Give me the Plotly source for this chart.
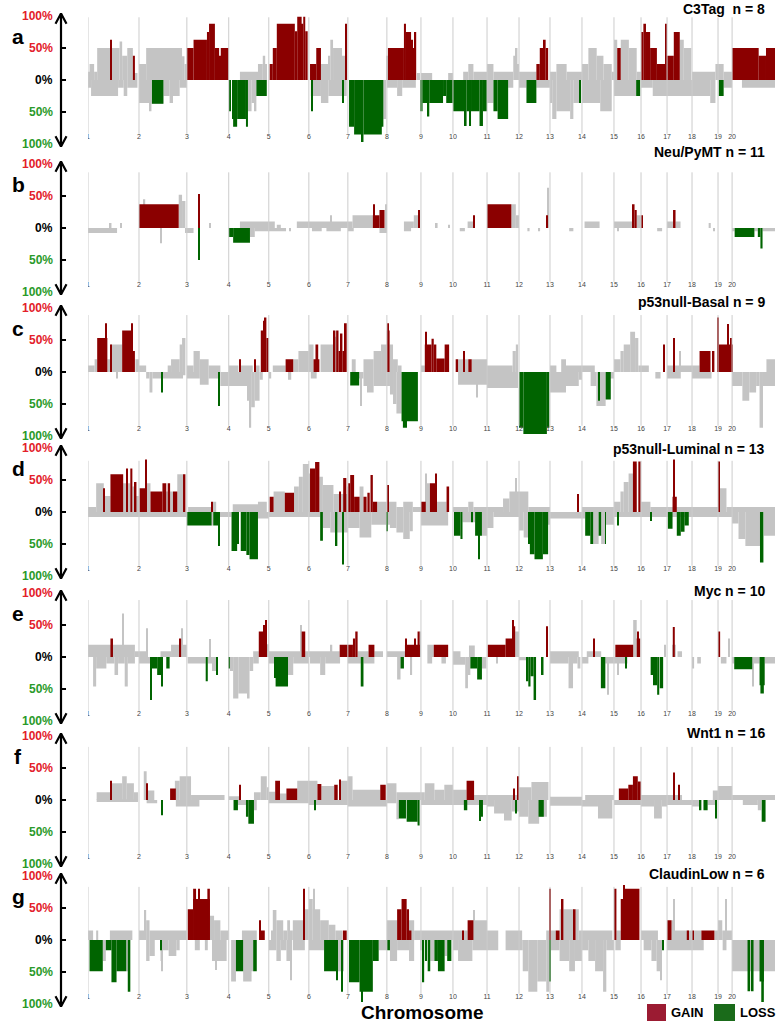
import plotly.graph_objects as go

# ---------------- data ----------------
CHROMOSOMES = ["1", "2", "3", "4", "5", "6", "7", "8", "9", "10",
               "11", "12", "13", "14", "15", "16", "17", "18", "19", "20"]
CHROM_LENGTH_MB = [196, 184, 161, 154, 154, 150, 150, 131, 123, 131,
                   123, 119, 123, 123, 104, 100, 96, 100, 54, 165]

PANEL_LETTERS = ["a", "b", "c", "d", "e", "f", "g"]
PANEL_TITLES = ["C3Tag\u00a0 n = 8", "Neu/PyMT n = 11", "p53null-Basal n = 9",
                "p53null-Luminal n = 13", "Myc n = 10", "Wnt1 n = 16", "ClaudinLow n = 6"]
Y_TICK_VALUES = [100, 50, 0, -50, -100]
Y_TICK_LABELS = ["100%", "50%", "0%", "50%", "100%"]

# segments: (chromosome, start fraction, end fraction, frequency %) ; loss < 0
A_FREQ = [
    (1, 0, 0.03, 13), (1, 0.03, 0.12, 25), (1, 0.12, 0.18, 13), (1, 0.18, 0.62, 50), (1, 0.62, 0.67, 60),
    (1, 0.67, 0.77, 38), (1, 0.77, 0.88, 50), (1, 0.88, 0.97, 11),
    (1, 0, 0.06, -12), (1, 0.06, 0.59, -25), (1, 0.59, 0.70, -12), (1, 0.70, 0.77, -25), (1, 0.77, 0.97, -12),
    (2, 0, 0.15, 25), (2, 0.15, 0.90, 50), (2, 0.90, 0.95, 37), (2, 0.95, 1, 25),
    (2, 0, 0.22, -36), (2, 0.22, 0.26, -49), (2, 0.26, 0.51, -37), (2, 0.51, 0.64, -25), (2, 0.64, 0.71, -36),
    (2, 0.71, 0.85, -25), (2, 0.85, 1, -12),
    (4, 0.28, 0.73, 13), (4, 0.73, 0.85, 25), (4, 0.85, 0.91, 38), (4, 0.91, 0.95, 25),
    (4, 0.48, 0.57, -49), (4, 0.57, 0.65, -36), (4, 0.65, 0.69, -49),
    (6, 0.31, 0.50, 25), (6, 0.50, 0.55, 38), (6, 0.55, 0.62, 63), (6, 0.62, 0.85, 50), (6, 0.85, 0.93, 38),
    (6, 0.05, 0.31, -25), (6, 0.31, 0.50, -36), (6, 0.50, 0.97, -25),
    (7, 0.91, 0.98, -61),
    (8, 0, 0.03, 38), (8, 0.88, 0.97, 11), (8, 0, 0.3, -12), (8, 0.3, 0.45, -25), (8, 0.45, 0.85, -12),
    (9, 0, 0.35, 11), (9, 0.85, 1, 11),
    (10, 0.3, 0.45, 13), (10, 0.45, 0.6, 25), (10, 0.6, 1, 13),
    (11, 0, 0.2, 25), (11, 0.2, 0.82, 13), (11, 0.82, 0.9, 38), (11, 0.9, 0.95, 50), (11, 0.95, 1, 25),
    (11, 0, 0.2, -36), (11, 0.66, 0.82, -12),
    (12, 0, 0.56, 13), (12, 0, 0.24, -12), (12, 0.56, 1, -12),
    (13, 0, 0.2, 13), (13, 0.2, 0.52, 25), (13, 0.52, 1, 13), (13, 0, 0.07, -36), (13, 0.07, 0.2, -61),
    (13, 0.2, 0.63, -49), (13, 0.63, 0.73, -61), (13, 0.73, 0.93, -36),
    (14, 0, 0.2, 25), (14, 0.2, 0.46, 50), (14, 0.46, 0.67, 38), (14, 0.67, 0.93, 25), (14, 0.93, 1, 13),
    (14, 0, 0.57, -36), (14, 0.57, 0.93, -49),
    (15, 0, 0.12, 63), (15, 0.25, 0.55, 63), (15, 0.55, 0.84, 50), (15, 0.84, 1, 13), (15, 0, 0.82, -25),
    (16, 0, 0.45, -12), (16, 0.45, 1, -25),
    (17, 0.51, 0.67, 63), (17, 0.67, 0.97, 50), (17, 0, 1, -25),
    (18, 0, 0.9, 13), (18, 0.9, 1, 25), (18, 0, 0.7, -25), (18, 0.7, 0.9, -36),
    (19, 0, 0.4, 25), (19, 0.4, 1, 13), (19, 0.4, 1, -12),
    (20, 0.23, 1, -12),
]
A_SIG = [
    (1, 0.44, 0.46, 63), (1, 0.88, 0.92, 38),
    (2, 0.27, 0.51, -37),
    (3, 0, 0.16, 50), (3, 0.16, 0.48, 63), (3, 0.48, 0.53, 75), (3, 0.53, 0.67, 88), (3, 0.67, 0.77, 50),
    (3, 0.77, 0.81, 38), (3, 0.81, 1, 50),
    (4, 0.03, 0.05, -49), (4, 0.09, 0.11, -61), (4, 0.11, 0.21, -73), (4, 0.21, 0.43, -61), (4, 0.43, 0.48, -73),
    (4, 0.69, 0.95, -25),
    (5, 0.02, 0.10, 25), (5, 0.10, 0.20, 50), (5, 0.20, 0.65, 88), (5, 0.65, 0.71, 76), (5, 0.71, 0.82, 99),
    (5, 0.82, 0.86, 88), (5, 0.86, 0.91, 99), (5, 0.91, 0.97, 76),
    (6, 0.03, 0.19, 25), (6, 0.19, 0.31, 50), (6, 0.94, 0.96, 88), (6, 0.07, 0.09, -49), (6, 0.86, 0.88, -36),
    (7, 0.03, 0.16, -73), (7, 0.16, 0.36, -85), (7, 0.36, 0.40, -97), (7, 0.40, 0.87, -85), (7, 0.87, 0.91, -73),
    (8, 0.03, 0.50, 50), (8, 0.50, 0.56, 88), (8, 0.56, 0.71, 75), (8, 0.71, 0.76, 63), (8, 0.76, 0.82, 50),
    (8, 0.82, 0.86, 75),
    (9, 0, 0.05, -49), (9, 0.05, 0.21, -36), (9, 0.21, 0.26, -57), (9, 0.26, 0.69, -36), (9, 0.69, 0.79, -25),
    (9, 0.79, 1, -36),
    (10, 0, 0.35, -49), (10, 0.35, 0.40, -72), (10, 0.40, 0.48, -49), (10, 0.48, 0.53, -72), (10, 0.53, 0.78, -49),
    (10, 0.78, 0.88, -72), (10, 0.88, 1, -49),
    (11, 0.2, 0.33, -49), (11, 0.33, 0.66, -61),
    (12, 0.56, 0.67, 25), (12, 0.67, 0.80, 50), (12, 0.80, 0.86, 63), (12, 0.86, 0.94, 50), (12, 0.24, 0.56, -36),
    (13, 0.93, 0.97, -36),
    (15, 0.12, 0.25, 50), (15, 0.82, 0.97, -25),
    (16, 0, 0.09, 75), (16, 0.09, 0.19, 88), (16, 0.19, 0.35, 75), (16, 0.35, 0.61, 50), (16, 0.61, 0.94, 25),
    (16, 0.94, 0.98, 88),
    (17, 0, 0.27, 38), (17, 0.27, 0.51, 75),
    (19, 0.05, 0.4, -25),
    (20, 0, 0.62, 50), (20, 0.62, 0.79, 38), (20, 0.79, 1, 50),
]

B_FREQ = [
    (1, 0, 0.57, -8), (1, 0.43, 0.46, 8), (1, 0.64, 0.66, 8),
    (2, 0.1, 0.13, 45), (2, 0.83, 0.9, 52), (2, 0.9, 0.97, 42), (2, 0.45, 0.47, -24), (2, 0.97, 1, -8),
    (3, 0, 0.16, -8), (3, 0.55, 0.57, 8),
    (4, 0.53, 0.65, -14), (4, 0.65, 1, -5), (4, 0.28, 1, 10),
    (5, 0, 0.15, 10), (5, 0.2, 0.3, 5), (5, 0.7, 1, 10), (5, 0, 0.43, -5), (5, 0.52, 0.55, -5),
    (6, 0, 0.55, 10), (6, 0.55, 0.58, 20), (6, 0.58, 1, 10), (6, 0.08, 0.33, -5), (6, 0.45, 0.82, -5),
    (7, 0, 0.12, 10), (7, 0.12, 0.64, 20), (7, 0.96, 1, 37), (7, 0, 0.15, -5), (7, 0.81, 1, -8),
    (8, 0.5, 0.79, 10), (8, 0.79, 0.93, 20), (8, 0.5, 0.71, -5),
    (9, 0.46, 0.52, 8), (9, 0.85, 0.88, 5),
    (10, 0.43, 0.61, 10), (10, 0.2, 0.35, -5),
    (11, 0.76, 0.9, 37), (11, 0.9, 1, 20),
    (12, 0.27, 0.34, -5), (12, 0.62, 0.68, -5), (12, 0.93, 0.95, 63),
    (13, 0.6, 0.73, -5),
    (14, 0.08, 0.55, 10),
    (15, 0, 0.69, 10), (15, 0.84, 1, 20), (15, 0.14, 0.18, -5),
    (16, 0.62, 0.81, -5),
    (17, 0, 0.24, 10), (17, 0.34, 0.54, 10),
    (18, 0.64, 0.72, 8), (18, 0.82, 0.86, -5),
    (20, 0, 0.06, -5), (20, 0.52, 0.6, -5), (20, 0.71, 1, -5),
]
B_SIG = [
    (2, 0, 0.83, 37),
    (3, 0.27, 0.29, 53), (3, 0.27, 0.29, -50),
    (4, 0, 0.11, -14), (4, 0.11, 0.53, -23),
    (7, 0.64, 0.81, 20), (7, 0.65, 0.67, 37), (7, 0.81, 0.94, 28),
    (8, 0.93, 0.96, 28),
    (10, 0.6, 0.63, 20),
    (11, 0, 0.76, 37),
    (12, 0.9, 0.93, 20),
    (15, 0.69, 0.76, 37), (15, 0.76, 0.84, 28),
    (16, 0, 0.05, 20),
    (17, 0.24, 0.34, 28),
    (20, 0.06, 0.52, -14), (20, 0.6, 0.66, -14), (20, 0.66, 0.71, -32),
]

C_FREQ = [
    (1, 0, 0.13, 10), (1, 0.13, 0.18, 20), (1, 0.38, 0.44, 20), (1, 0.44, 0.67, 43), (1, 0.93, 1, 20),
    (1, 0.55, 0.57, -10),
    (2, 0, 0.15, 10), (2, 0.6, 0.67, 10), (2, 0.67, 0.85, 20), (2, 0.85, 0.9, 43), (2, 0.9, 0.97, 53),
    (2, 0.15, 0.22, -10), (2, 0.22, 0.28, -32), (2, 0.28, 0.46, -10), (2, 0.5, 0.92, -10), (2, 0.92, 0.97, -5),
    (3, 0, 0.16, 10), (3, 0.16, 0.31, 33), (3, 0.31, 0.52, 20), (3, 0.52, 0.8, 10),
    (3, 0, 0.31, -10), (3, 0.31, 0.52, -20), (3, 0.52, 0.75, -10), (3, 0.8, 1, -22),
    (4, 0, 0.24, 10), (4, 0.3, 0.6, 10), (4, 0.66, 0.77, 10),
    (4, 0, 0.48, -22), (4, 0.48, 0.52, -45), (4, 0.52, 0.56, -87), (4, 0.56, 0.65, -55), (4, 0.65, 0.77, -45),
    (4, 0.77, 0.85, -12),
    (5, 0.1, 0.42, 10), (5, 0.61, 0.74, 20), (5, 0.74, 1, 33), (5, 0, 0.06, -10), (5, 0.48, 0.56, -12),
    (6, 0, 0.12, 43), (6, 0.3, 0.64, 43), (6, 0.64, 0.7, 55), (6, 0.05, 0.2, -10),
    (7, 0.1, 0.2, 20), (7, 0.4, 0.66, 20), (7, 0.66, 0.85, 33), (7, 0.85, 1, 43),
    (7, 0.29, 0.4, -10), (7, 0.33, 0.35, -53), (7, 0.4, 0.49, -22), (7, 0.49, 0.66, -32), (7, 0.66, 1, -22),
    (8, 0.08, 0.18, 43), (8, 0.18, 0.32, 20), (8, 0.32, 0.43, 10),
    (8, 0, 0.09, -22), (8, 0.09, 0.18, -35), (8, 0.18, 0.28, -50), (8, 0.28, 0.43, -65),
    (9, 0, 0.12, 10),
    (10, 0.15, 0.45, 20), (10, 0.55, 1, 20), (10, 0.15, 1, -20), (10, 0.7, 0.72, -40),
    (11, 0, 0.8, 10), (11, 0.8, 0.9, 33), (11, 0.9, 0.97, 43), (11, 0, 0.97, -25),
    (13, 0, 0.2, 10), (13, 0.35, 0.5, 20), (13, 0.5, 1, 10), (13, 0, 0.5, -32), (13, 0.5, 0.9, -22),
    (13, 0.9, 1, -12),
    (14, 0, 0.4, 10), (14, 0.27, 0.45, -22), (14, 0.45, 0.74, -53), (14, 0.88, 1, -10),
    (15, 0, 0.24, 20), (15, 0.24, 0.36, 33), (15, 0.36, 0.6, 43), (15, 0.6, 0.78, 63), (15, 0.78, 0.9, 53),
    (15, 0.9, 1, 10),
    (16, 0, 0.3, 10), (16, 0.55, 0.75, -10),
    (17, 0, 1, 10), (17, 0.5, 0.55, 33), (17, 0, 0.55, -10),
    (18, 0, 0.29, 10), (18, 0, 0.75, -10),
    (20, 0.8, 1, 20), (20, 0, 0.24, -22), (20, 0.24, 0.4, -45), (20, 0.4, 0.56, -32), (20, 0.56, 0.64, -22),
    (20, 0.64, 0.72, -87), (20, 0.72, 1, -22),
]
C_SIG = [
    (1, 0.18, 0.38, 53), (1, 0.35, 0.37, 76), (1, 0.44, 0.46, 43), (1, 0.67, 0.88, 65), (1, 0.86, 0.88, 76),
    (1, 0.88, 0.92, 33),
    (2, 0.47, 0.49, -32),
    (3, 0.76, 0.78, -53),
    (4, 0.27, 0.29, 20), (4, 0.64, 0.66, 20), (4, 0.8, 0.86, 65), (4, 0.86, 0.9, 80), (4, 0.9, 0.94, 85),
    (4, 0.94, 1, 53),
    (5, 0.42, 0.61, 20),
    (6, 0.12, 0.27, 20), (6, 0.17, 0.24, 43), (6, 0.64, 0.68, 65), (6, 0.7, 0.76, 65), (6, 0.76, 0.82, 33),
    (6, 0.82, 0.86, 60), (6, 0.86, 0.92, 33), (6, 0.92, 0.97, 76),
    (7, 0.06, 0.29, -21),
    (8, 0, 0.08, 65), (8, 0.02, 0.04, 76), (8, 0.43, 0.91, -77), (8, 0.47, 0.59, -87),
    (9, 0.12, 0.33, 43), (9, 0.14, 0.16, 63), (9, 0.33, 0.4, 52), (9, 0.4, 0.48, 43), (9, 0.48, 0.74, 21),
    (9, 0.74, 0.88, 43),
    (10, 0.08, 0.15, 20), (10, 0.3, 0.33, 33), (10, 0.45, 0.55, 20),
    (12, 0, 0.14, -87), (12, 0.14, 0.9, -97), (12, 0.9, 0.98, -87),
    (14, 0.52, 0.55, -45), (14, 0.74, 0.9, -43),
    (16, 0.88, 0.92, 43),
    (17, 0.26, 0.3, 53),
    (18, 0.29, 0.71, 33), (18, 0.79, 0.86, 33),
    (19, 0, 0.05, 85), (19, 0.05, 0.65, 43), (19, 0.65, 0.72, 75), (19, 0.72, 0.9, 43), (19, 0.9, 0.95, 53),
    (19, 0.95, 1, 43),
]

D_FREQ = [
    (1, 0, 0.16, 8), (1, 0.16, 0.31, 45), (1, 0.31, 0.44, 25), (1, 0.69, 0.75, 45), (1, 0.78, 0.83, 45),
    (1, 0.87, 0.92, 40), (1, 0.92, 1, 25), (1, 0, 1, -8),
    (2, 0.13, 0.24, 45), (2, 0.57, 0.6, 32), (2, 0.65, 0.71, 32), (2, 0.8, 0.92, 59), (2, 0, 1, -8),
    (3, 0.03, 0.62, 8), (3, 0.62, 0.7, 16), (3, 0.59, 0.63, -21), (3, 0.77, 1, -8),
    (4, 0.1, 0.73, 12), (4, 0.73, 0.95, 16), (4, 0, 0.07, -8), (4, 0.73, 1, -10),
    (5, 0.12, 0.4, 32), (5, 0.63, 0.75, 40), (5, 0.75, 0.85, 55), (5, 0.85, 1, 75), (5, 0, 1, -8),
    (6, 0, 0.03, 60), (6, 0.27, 0.36, 55), (6, 0.36, 0.63, 42), (6, 0.63, 1, 28), (6, 0, 0.29, -8),
    (6, 0.36, 0.55, -25), (6, 0.55, 1, -32),
    (7, 0, 0.02, 40), (7, 0.3, 0.4, 40), (7, 0.75, 1, 16), (7, 0, 0.3, -25), (7, 0.3, 0.6, -40), (7, 0.6, 1, -20),
    (8, 0, 0.28, 16), (8, 0.28, 0.48, 8), (8, 0.48, 0.76, 16), (8, 0.76, 1, 8), (8, 0, 0.09, -20),
    (8, 0.09, 0.28, -25), (8, 0.28, 0.48, -32), (8, 0.48, 0.67, -42), (8, 0.67, 0.76, -30),
    (9, 0.15, 0.28, 45), (9, 0.16, 0.18, 60), (9, 0.46, 0.8, 16), (9, 0, 0.85, -21),
    (10, 0, 0.45, 8), (10, 0.45, 0.6, 16), (10, 0.6, 1, 8), (10, 0.28, 0.53, -16), (10, 0.58, 0.65, -16),
    (10, 0.85, 1, -37),
    (11, 0, 0.5, 8), (11, 0.5, 0.7, 21), (11, 0.7, 0.88, 32), (11, 0.88, 0.92, 53), (11, 0.92, 1, 32),
    (11, 0, 0.2, -25), (11, 0.2, 1, -8),
    (12, 0, 0.3, 32), (12, 0.3, 1, 8), (12, 0, 0.15, -29), (12, 0.15, 0.29, -40), (12, 0.94, 1, -20),
    (13, 0, 1, -10),
    (14, 0, 1, 8), (14, 0, 0.1, -10), (14, 0.35, 0.52, -50), (14, 0.6, 0.72, -50), (14, 0.75, 1, -20),
    (15, 0, 0.24, 16), (15, 0.24, 0.36, 32), (15, 0.36, 0.54, 47), (15, 0.54, 0.7, 60), (15, 0.7, 0.84, 75),
    (15, 0, 1, -8),
    (16, 0, 0.36, 16), (16, 0.36, 1, 8), (16, 0, 1, -8),
    (17, 0, 1, 8), (17, 0, 1, -8),
    (18, 0, 1, 8), (18, 0, 1, -8),
    (19, 0.1, 0.6, 37), (19, 0.6, 1, 8), (19, 0, 1, -8),
    (20, 0, 1, 8), (20, 0, 0.15, -18), (20, 0.15, 0.31, -42), (20, 0.31, 0.65, -53), (20, 0.65, 0.7, -42),
    (20, 0.74, 1, -37),
]
D_SIG = [
    (1, 0.31, 0.33, 37), (1, 0.44, 0.69, 59), (1, 0.75, 0.78, 68), (1, 0.83, 0.87, 68), (1, 0.92, 0.95, 47),
    (2, 0.01, 0.13, 37), (2, 0.14, 0.16, 82), (2, 0.24, 0.49, 32), (2, 0.49, 0.57, 45), (2, 0.6, 0.65, 45),
    (2, 0.71, 0.8, 32), (2, 0.92, 0.97, 59),
    (3, 0.6, 0.62, 16), (3, 0, 0.59, -21), (3, 0.63, 0.77, -21), (3, 0.76, 0.78, -53),
    (4, 0.07, 0.21, -61), (4, 0.21, 0.24, -50), (4, 0.3, 0.44, -61), (4, 0.44, 0.52, -67), (4, 0.52, 0.73, -74),
    (5, 0.02, 0.12, 24), (5, 0.4, 0.63, 30),
    (6, 0.03, 0.16, 68), (6, 0.16, 0.27, 78), (6, 0.8, 0.82, 32), (6, 0.88, 0.96, 53), (6, 0.29, 0.36, -45),
    (6, 0.68, 0.73, -53), (6, 0.86, 0.88, -82),
    (7, 0.02, 0.06, 45), (7, 0.06, 0.16, 58), (7, 0.16, 0.3, 24), (7, 0.4, 0.48, 24), (7, 0.5, 0.56, 30),
    (7, 0.58, 0.64, 58), (7, 0.64, 0.75, 16),
    (8, 0.03, 0.06, 42), (8, 0, 0.02, -30),
    (9, 0, 0.15, 16), (9, 0.28, 0.46, 45), (9, 0.44, 0.48, 60), (9, 0.8, 0.88, 40),
    (10, 0.03, 0.22, -37), (10, 0.22, 0.28, -42), (10, 0.53, 0.58, -16), (10, 0.65, 0.85, -37),
    (10, 0.75, 0.78, -74),
    (12, 0.29, 0.35, -50), (12, 0.35, 0.5, -66), (12, 0.5, 0.77, -74), (12, 0.77, 0.94, -66),
    (13, 0.88, 0.9, 28),
    (14, 0.1, 0.26, -37), (14, 0.26, 0.35, -50), (14, 0.52, 0.6, -37), (14, 0.72, 0.75, -50),
    (15, 0.7, 0.84, 79), (15, 0.9, 0.99, 79), (15, 0.14, 0.16, -21),
    (16, 0.36, 0.42, -14),
    (17, 0.22, 0.39, 24), (17, 0.27, 0.3, 32), (17, 0.28, 0.29, 82), (17, 0.03, 0.22, -26), (17, 0.39, 0.55, -37),
    (17, 0.55, 0.7, -31), (17, 0.7, 0.87, -21),
    (19, 0, 0.1, 79),
    (20, 0.65, 0.73, -79),
]

E_FREQ = [
    (1, 0, 0.92, 19), (1, 0.68, 0.7, 68), (1, 0.92, 1, 9),
    (1, 0.1, 0.16, -46), (1, 0.16, 0.36, -18), (1, 0.36, 0.52, -10), (1, 0.52, 0.59, -28), (1, 0.59, 0.72, -10),
    (1, 0.72, 0.78, -46), (1, 0.78, 0.92, -10),
    (2, 0, 0.15, 9), (2, 0.15, 0.17, 45), (2, 0.45, 0.67, 9), (2, 0.67, 0.85, 19), (2, 0.88, 0.92, 45),
    (2, 0.92, 1, 19), (2, 0, 0.24, -10),
    (3, 0.54, 0.56, 28), (3, 0.02, 0.45, -10), (3, 0.5, 0.7, -10), (3, 0.6, 0.7, -22),
    (4, 0.61, 0.75, 9), (4, 0.95, 1, 20), (4, 0.03, 0.11, -22), (4, 0.11, 0.24, -65), (4, 0.24, 0.48, -57),
    (4, 0.48, 0.52, -65), (4, 0.52, 0.61, -22), (4, 0.61, 0.75, -10),
    (5, 0, 0.78, 9), (5, 0.78, 0.82, 50), (5, 0.91, 1, 9), (5, 0, 0.14, -10), (5, 0.48, 0.61, -28),
    (5, 0.61, 1, -10),
    (6, 0, 0.79, 9), (6, 0.55, 0.6, 19), (6, 0.03, 0.29, -10), (6, 0.29, 0.42, -28), (6, 0.42, 0.8, -10),
    (7, 0.25, 0.53, 9), (7, 0.68, 0.9, 9), (7, 0, 0.33, -10), (7, 0.4, 0.68, -10),
    (8, 0, 0.53, 9), (8, 0.97, 1, 40), (8, 0.3, 0.4, -35), (8, 0.7, 0.74, -28),
    (9, 0.2, 0.4, 19), (9, 0.2, 0.35, -10), (9, 0.64, 0.78, -10),
    (10, 0, 0.22, 9), (10, 0.47, 0.64, 18), (10, 0, 0.36, -12), (10, 0.36, 0.44, -49), (10, 0.44, 0.51, -28),
    (10, 0.85, 0.98, -18),
    (11, 0.88, 1, 40), (11, 0.3, 0.33, -10),
    (12, 0, 0.24, -5),
    (13, 0, 0.9, 9), (13, 0, 0.58, -10), (13, 0.58, 0.72, -49), (13, 0.72, 0.86, -10), (13, 0.86, 0.95, -18),
    (14, 0.15, 0.6, 9), (14, 0, 0.2, -10), (14, 0.73, 1, -10), (14, 0.8, 0.83, -59),
    (15, 0.71, 0.84, 58), (15, 0, 0.5, -10), (15, 0.12, 0.16, -28),
    (16, 0.9, 0.93, 19),
    (17, 0.2, 0.35, 19), (17, 0.42, 0.6, 9),
    (18, 0, 0.08, -18), (18, 0.2, 0.34, -10),
    (19, 0.75, 0.8, 29), (19, 0.2, 0.6, -10),
    (20, 0, 0.05, -10), (20, 0.47, 0.64, -10), (20, 0.47, 0.5, -46), (20, 0.76, 1, -10),
]
E_SIG = [
    (1, 0.44, 0.49, 29),
    (2, 0.85, 0.88, 29), (2, 0.24, 0.38, -18), (2, 0.25, 0.27, -67), (2, 0.38, 0.47, -28), (2, 0.47, 0.5, -46),
    (2, 0.57, 0.64, -18),
    (3, 0.45, 0.5, -38), (3, 0.7, 0.74, -28),
    (4, 0.75, 0.87, 40), (4, 0.87, 0.91, 50), (4, 0.91, 0.95, 58), (4, 0, 0.03, -18),
    (5, 0.82, 0.91, 40), (5, 0.14, 0.17, -33), (5, 0.17, 0.48, -46),
    (6, 0.79, 1, 19),
    (7, 0, 0.13, 19), (7, 0.13, 0.19, 29), (7, 0.19, 0.25, 40), (7, 0.53, 0.68, 19), (7, 0.33, 0.4, -46),
    (8, 0.53, 0.97, 19), (8, 0.54, 0.57, 29), (8, 0.8, 0.85, 29), (8, 0.9, 0.96, 40), (8, 0.4, 0.5, -18),
    (9, 0.4, 0.85, 19),
    (10, 0.51, 0.71, -18), (10, 0.71, 0.85, -35),
    (11, 0.02, 0.58, 19), (11, 0.58, 0.79, 29), (11, 0.79, 0.84, 58), (11, 0.84, 0.88, 48),
    (12, 0.89, 0.92, 48), (12, 0.24, 0.3, -38), (12, 0.3, 0.37, -46), (12, 0.37, 0.47, -30), (12, 0.47, 0.55, -67),
    (12, 0.71, 0.79, -28),
    (14, 0.38, 0.4, 29), (14, 0.59, 0.73, -49),
    (15, 0.05, 0.71, 19), (15, 0.84, 0.97, 29), (15, 0.88, 0.9, 40), (15, 0.42, 0.47, -18),
    (16, 0.37, 0.46, -28), (16, 0.46, 0.62, -44), (16, 0.62, 0.7, -59), (16, 0.72, 0.85, -49),
    (17, 0.23, 0.31, 47),
    (19, 0, 0.15, 40),
    (20, 0.05, 0.47, -19), (20, 0.64, 0.76, -44), (20, 0.66, 0.74, -57),
]

F_FREQ = [
    (1, 0.17, 0.45, 12), (1, 0.47, 0.67, 26), (1, 0.67, 0.76, 37), (1, 0.76, 0.9, 26), (1, 0.9, 0.98, 12),
    (1, 0.17, 0.98, -3),
    (2, 0.1, 0.16, 45), (2, 0.16, 0.32, 15), (2, 0.75, 0.85, 30), (2, 0.85, 1, 37), (2, 0.16, 0.38, -5),
    (2, 0.77, 1, -10),
    (3, 0, 0.1, 37), (3, 0.1, 0.9, 8), (3, 0, 0.3, -10),
    (4, 0, 0.28, 6), (4, 0.63, 0.8, 12), (4, 0.8, 0.95, 37), (4, 0.95, 1, 20), (4, 0.23, 0.43, -8),
    (4, 0.63, 0.7, -16),
    (5, 0, 0.16, 13), (5, 0.28, 0.44, 10), (5, 0.71, 1, 30), (5, 0, 1, -5),
    (6, 0, 0.22, 30), (6, 0.32, 0.65, 22), (6, 0.82, 1, 30), (6, 0, 1, -8),
    (7, 0, 0.12, 37), (7, 0.12, 0.83, 16), (7, 0, 1, -10),
    (8, 0, 0.28, 26), (8, 0.28, 1, 12), (8, 0, 0.28, -5), (8, 0.28, 0.35, -30),
    (9, 0, 0.12, 12), (9, 0.12, 0.42, 26), (9, 0.42, 0.73, 16), (9, 0.73, 1, 24), (9, 0, 1, -8),
    (10, 0, 0.4, 16), (10, 0.62, 1, 8), (10, 0, 1, -8),
    (11, 0, 1, 8), (11, 0, 0.22, -10), (11, 0.22, 0.53, -21), (11, 0.53, 0.77, -32), (11, 0.77, 1, -18),
    (12, 0, 0.4, 20), (12, 0.4, 0.95, 28), (12, 0, 0.3, -26), (12, 0.3, 0.65, -37), (12, 0.65, 0.9, -26),
    (13, 0, 1, 5), (13, 0, 1, -9),
    (14, 0.1, 1, 8), (14, 0, 0.5, -10), (14, 0.5, 0.95, -29),
    (15, 0, 1, -8),
    (16, 0, 1, 8), (16, 0, 0.5, -10), (16, 0.5, 0.8, -29), (16, 0.8, 1, -10),
    (17, 0, 0.6, 8), (17, 0, 1, -8),
    (18, 0.8, 1, 15), (18, 0, 0.3, -10), (18, 0.6, 0.9, -8),
    (19, 0, 1, 22),
    (20, 0, 1, 8), (20, 0.25, 0.6, -8), (20, 0.6, 0.68, -16),
]
F_SIG = [
    (1, 0.45, 0.47, 30),
    (2, 0.16, 0.18, 26), (2, 0.65, 0.77, 18), (2, 0.48, 0.5, -24),
    (4, 0.28, 0.3, 24), (4, 0.12, 0.23, -16), (4, 0.43, 0.49, -26), (4, 0.49, 0.63, -37),
    (5, 0.16, 0.28, 30), (5, 0.44, 0.71, 18),
    (6, 0.22, 0.32, 25), (6, 0.65, 0.74, 24), (6, 0.8, 0.82, 32), (6, 0.15, 0.17, -16),
    (7, 0.83, 0.97, 24),
    (8, 0.35, 0.56, -29), (8, 0.58, 0.9, -34), (8, 0.9, 0.96, -40),
    (10, 0.4, 0.62, 30), (10, 0.32, 0.42, -16), (10, 0.79, 0.88, -26), (10, 0.79, 0.82, -33),
    (11, 0.84, 0.87, 18), (11, 0.95, 0.98, 37), (11, 0.88, 0.9, -21),
    (12, 0.63, 0.8, -26),
    (15, 0.18, 0.53, 18), (15, 0.53, 0.7, 24), (15, 0.7, 0.88, 37), (15, 0.88, 1, 29),
    (17, 0.24, 0.28, 43), (17, 0.44, 0.48, 24),
    (18, 0.3, 0.36, -16), (18, 0.44, 0.6, -16), (18, 0.9, 0.94, -29),
    (20, 0.69, 0.78, -34),
]

G_FREQ = [
    (1, 0, 0.1, 15), (1, 0.16, 0.2, 15), (1, 0.43, 0.87, 15), (1, 0.29, 0.35, -33), (1, 0.75, 0.78, -49),
    (2, 0, 0.15, 15), (2, 0.12, 0.15, 47), (2, 0.15, 0.22, 31), (2, 0.22, 1, 15),
    (2, 0.15, 0.22, -33), (2, 0.22, 0.33, -25), (2, 0.45, 0.5, -33), (2, 0.46, 0.5, -49), (2, 0.5, 0.62, -16),
    (2, 0.62, 0.78, -25), (2, 0.78, 0.85, -16),
    (3, 0.55, 0.65, 38), (3, 0.65, 0.8, 31), (3, 0.8, 1, 15), (3, 0.19, 0.31, -16), (3, 0.43, 0.5, -16),
    (3, 0.6, 0.95, -33), (3, 0.68, 0.72, -47),
    (4, 0.33, 0.7, 15), (4, 0.06, 0.18, -65), (4, 0.36, 0.57, -65), (4, 0.57, 0.61, -49),
    (5, 0.06, 0.1, 15), (5, 0.1, 0.19, 47), (5, 0.19, 0.36, 31), (5, 0.36, 0.46, 15), (5, 0.46, 0.53, 31),
    (5, 0.53, 0.6, 15), (5, 0.6, 0.86, 31), (5, 0.9, 1, 48),
    (5, 0, 0.19, -16), (5, 0.19, 0.3, -33), (5, 0.3, 0.44, -16), (5, 0.44, 0.54, -33), (5, 0.54, 0.57, -63),
    (5, 0.6, 0.9, -16),
    (6, 0, 0.1, 64), (6, 0.1, 0.29, 48), (6, 0.11, 0.13, 80), (6, 0.29, 0.51, 31), (6, 0.51, 0.68, 24),
    (6, 0.68, 0.85, 15), (6, 0, 0.39, -16), (6, 0.7, 0.9, -49),
    (7, 0.79, 1, -16),
    (8, 0, 0.3, 31), (8, 0.65, 0.8, 31), (8, 0.8, 1, 15), (8, 0.09, 0.3, -33), (8, 0.3, 0.65, -16),
    (8, 0.65, 0.8, -33),
    (9, 0, 1, 15), (9, 0, 0.05, -16), (9, 0.29, 0.42, -33), (9, 0.74, 0.82, -25),
    (10, 0, 0.43, 15), (10, 0.6, 0.63, 47), (10, 0.63, 1, 31), (10, 0, 0.15, -16), (10, 0.15, 0.57, -33),
    (10, 0.57, 1, -16),
    (11, 0, 0.35, 15), (11, 0.58, 1, 15), (11, 0, 0.35, -16), (11, 0.58, 1, -16),
    (12, 0, 0.1, 15), (12, 0.88, 1, 15), (12, 0, 0.12, -16), (12, 0.12, 0.3, -49), (12, 0.3, 0.59, -81),
    (12, 0.59, 0.88, -65), (12, 0.88, 0.98, -81),
    (13, 0.02, 0.18, 15), (13, 0.3, 0.37, 48), (13, 0.42, 0.75, 48), (13, 0.8, 0.9, 48), (13, 0.9, 1, 15),
    (13, 0.02, 0.3, -16), (13, 0.3, 0.6, -33), (13, 0.6, 0.78, -49), (13, 0.78, 1, -33),
    (14, 0, 0.95, 15), (14, 0, 0.2, -16), (14, 0.2, 0.41, -33), (14, 0.41, 0.66, -49), (14, 0.66, 0.76, -81),
    (14, 0.76, 1, -16),
    (15, 0.09, 0.25, 15), (15, 0.05, 0.25, -16),
    (16, 0, 0.65, 15), (16, 0.1, 0.4, -16), (16, 0.4, 0.6, -33), (16, 0.6, 0.73, -49), (16, 0.73, 0.78, -63),
    (17, 0.18, 0.3, 31), (17, 0.25, 0.28, 64), (17, 0.3, 1, 15), (17, 0, 1, -16),
    (18, 0.07, 0.36, 15), (18, 0.86, 1, 15), (18, 0, 0.45, -16),
    (19, 0, 0.3, 31), (19, 0.3, 1, 15), (19, 0.57, 0.62, 64), (19, 0.33, 0.6, -16),
    (20, 0, 1, -49),
]
G_SIG = [
    (1, 0.03, 0.29, -49), (1, 0.35, 0.46, -16), (1, 0.46, 0.56, -66), (1, 0.56, 0.75, -49), (1, 0.78, 0.83, -81),
    (2, 0.44, 0.46, -16),
    (3, 0.02, 0.15, 48), (3, 0.15, 0.55, 64), (3, 0.15, 0.22, 80), (3, 0.29, 0.31, 80), (3, 0.49, 0.55, 80),
    (4, 0.77, 0.8, 31), (4, 0.8, 0.9, 15), (4, 0.18, 0.36, -49), (4, 0.61, 0.7, -49),
    (5, 0.86, 0.9, 80),
    (6, 0.87, 0.97, 15), (6, 0.39, 0.7, -49), (6, 0.7, 0.72, -63), (6, 0.84, 0.86, -81),
    (7, 0.03, 0.3, -66), (7, 0.3, 0.64, -81), (7, 0.35, 0.37, -97), (7, 0.64, 0.79, -33),
    (8, 0.3, 0.43, 48), (8, 0.43, 0.58, 64), (8, 0.58, 0.65, 48), (8, 0.65, 0.72, 15), (8, 0, 0.09, -16),
    (9, 0.05, 0.1, -66), (9, 0.13, 0.17, -33), (9, 0.21, 0.29, -49), (9, 0.42, 0.53, -33), (9, 0.53, 0.74, -49),
    (9, 0.82, 0.95, -33),
    (10, 0.29, 0.31, 15), (10, 0.43, 0.6, 31),
    (13, 0, 0.02, 80), (13, 0.18, 0.3, 15), (13, 0.37, 0.42, 64), (13, 0.75, 0.8, 48), (13, 0, 0.02, -65),
    (15, 0, 0.09, 80), (15, 0.25, 0.34, 64), (15, 0.34, 0.94, 80), (15, 0.36, 0.38, 86),
    (16, 0.83, 0.86, -16),
    (17, 0, 0.18, 31), (17, 0.79, 0.88, 15),
    (18, 0, 0.07, 15), (18, 0.36, 0.86, 15),
    (20, 0.36, 0.42, -80), (20, 0.44, 0.5, -80), (20, 0.64, 0.74, -65), (20, 0.68, 0.74, -97),
]

PANEL_FREQ = [A_FREQ, B_FREQ, C_FREQ, D_FREQ, E_FREQ, F_FREQ, G_FREQ]
PANEL_SIG = [A_SIG, B_SIG, C_SIG, D_SIG, E_SIG, F_SIG, G_SIG]

# ---------------- layout constants (pixels) ----------------
W, H = 777, 1023
X_LEFT_PX, X_RIGHT_PX = 88, 775
PANEL_ZERO_PX = [80, 228, 372, 512, 657, 800, 940]
PX_PER_PCT = 0.64
Y_LIM = 112
TITLE_Y_PX = [9, 152, 302, 449, 591, 733, 874]
LINE_TOP = [98, 87, 89, 80, 89, 83, 83]
LINE_BOTTOM = -84
ARROW_X_PX = 61

GREY = "#c4c4c4"
RED = "#8b0000"
GREEN = "#006400"
LABEL_RED = "#e3202a"
LABEL_GREEN = "#2a9a2a"
FONT = "Liberation Sans, Arial, sans-serif"

starts = []
acc = 0
for L in CHROM_LENGTH_MB:
    starts.append(acc)
    acc += L
total = acc
min_w = total / (X_RIGHT_PX - X_LEFT_PX) * 1.0  # at least one pixel wide


def bars(segs, sign=None):
    xs, ws, ys = [], [], []
    for c, f0, f1, v in segs:
        if sign == "pos" and v <= 0:
            continue
        if sign == "neg" and v >= 0:
            continue
        L = CHROM_LENGTH_MB[c - 1]
        s = starts[c - 1]
        x0, x1 = s + f0 * L, s + f1 * L
        w = max(x1 - x0, min_w)
        xs.append((x0 + x1) / 2)
        ws.append(w)
        ys.append(v)
    return xs, ws, ys


def py(px):
    return 1 - px / H


fig = go.Figure()
annotations = []
shapes = []
layout_axes = {}
half = Y_LIM * PX_PER_PCT

for i in range(7):
    xa = "x" if i == 0 else f"x{i + 1}"
    ya = "y" if i == 0 else f"y{i + 1}"
    z = PANEL_ZERO_PX[i]
    layout_axes["xaxis" if i == 0 else f"xaxis{i + 1}"] = dict(
        domain=[X_LEFT_PX / W, X_RIGHT_PX / W], range=[0, total], visible=False,
        anchor=ya, fixedrange=True)
    layout_axes["yaxis" if i == 0 else f"yaxis{i + 1}"] = dict(
        domain=[py(z + half), py(z - half)], range=[-Y_LIM, Y_LIM], visible=False,
        anchor=xa, fixedrange=True)

    # chromosome boundary lines
    lx, ly = [], []
    for s in starts:
        lx += [s, s, None]
        ly += [LINE_TOP[i], LINE_BOTTOM, None]
    fig.add_trace(go.Scatter(x=lx, y=ly, mode="lines", line=dict(color="#cccccc", width=1),
                             xaxis=xa, yaxis=ya, hoverinfo="skip", showlegend=False))
    # chromosome numbers
    fig.add_trace(go.Scatter(x=starts, y=[-90] * len(starts), mode="text", text=CHROMOSOMES,
                             textfont=dict(size=7, color="#444444", family=FONT),
                             xaxis=xa, yaxis=ya, hoverinfo="skip", showlegend=False))
    # frequency bars (grey)
    bx, bw, by = bars(PANEL_FREQ[i])
    fig.add_trace(go.Bar(x=bx, y=by, width=bw, marker=dict(color=GREY, line=dict(width=0)),
                         xaxis=xa, yaxis=ya, showlegend=False, hoverinfo="skip"))
    # significant gains / losses
    for sign, col in (("pos", RED), ("neg", GREEN)):
        bx, bw, by = bars(PANEL_SIG[i], sign)
        fig.add_trace(go.Bar(x=bx, y=by, width=bw, marker=dict(color=col, line=dict(width=0)),
                             xaxis=xa, yaxis=ya, showlegend=False, hoverinfo="skip"))

# left-hand double arrows and ticks, on a full-width pixel x axis
layout_axes["xaxis8"] = dict(domain=[0, 1], range=[0, W], visible=False, fixedrange=True, anchor="y")
for i in range(7):
    ya = "y" if i == 0 else f"y{i + 1}"
    ax_ = ARROW_X_PX
    arr_x = [ax_, ax_, None,
             ax_ - 5.5, ax_, ax_ + 5.5, None,
             ax_ - 5.5, ax_, ax_ + 5.5, None,
             ax_, ax_ + 5, None, ax_, ax_ + 5, None, ax_, ax_ + 5]
    arr_y = [104, -104, None,
             88, 104, 88, None,
             -88, -104, -88, None,
             50, 50, None, 0, 0, None, -50, -50]
    fig.add_trace(go.Scatter(x=arr_x, y=arr_y, mode="lines",
                             line=dict(color="black", width=2.2),
                             xaxis="x8", yaxis=ya, hoverinfo="skip", showlegend=False))

    # y labels
    for val, lab in zip(Y_TICK_VALUES, Y_TICK_LABELS):
        colr = LABEL_RED if val > 0 else (LABEL_GREEN if val < 0 else "black")
        annotations.append(dict(x=55 / W, xref="paper", y=val, yref=ya, text=f"<b>{lab}</b>",
                                showarrow=False, xanchor="right", yanchor="middle",
                                font=dict(size=12, color=colr, family=FONT)))
    # panel letter
    annotations.append(dict(x=18 / W, xref="paper", y=68, yref=ya, text=f"<b>{PANEL_LETTERS[i]}</b>",
                            showarrow=False, xanchor="center", yanchor="middle",
                            font=dict(size=21, color="black", family=FONT)))
    # title
    annotations.append(dict(x=767 / W, xref="paper", y=py(TITLE_Y_PX[i]), yref="paper",
                            text=f"<b>{PANEL_TITLES[i]}</b>", showarrow=False, xanchor="right",
                            yanchor="middle", font=dict(size=14, color="black", family=FONT)))

# bottom axis title and legend
annotations.append(dict(x=422 / W, xref="paper", y=py(1012), yref="paper", text="<b>Chromosome</b>",
                        showarrow=False, xanchor="center", yanchor="middle",
                        font=dict(size=19, color="black", family=FONT)))
shapes.append(dict(type="rect", xref="paper", yref="paper", x0=647 / W, x1=666 / W, y0=py(1021),
                   y1=py(1004), fillcolor="#9b1b32", line=dict(width=0)))
shapes.append(dict(type="rect", xref="paper", yref="paper", x0=714 / W, x1=735 / W, y0=py(1021),
                   y1=py(1004), fillcolor="#1a6b1a", line=dict(width=0)))
annotations.append(dict(x=669 / W, xref="paper", y=py(1012), yref="paper", text="<b>GAIN</b>",
                        showarrow=False, xanchor="left", yanchor="middle",
                        font=dict(size=13, color="black", family=FONT)))
annotations.append(dict(x=738 / W, xref="paper", y=py(1012), yref="paper", text="<b>LOSS</b>",
                        showarrow=False, xanchor="left", yanchor="middle",
                        font=dict(size=13, color="black", family=FONT)))

fig.update_layout(
    width=W, height=H, margin=dict(l=0, r=0, t=0, b=0),
    paper_bgcolor="white", plot_bgcolor="rgba(0,0,0,0)",
    barmode="overlay", showlegend=False,
    annotations=annotations, shapes=shapes,
    **layout_axes,
)

fig.write_html("out.html", config={"displayModeBar": False},
               post_script="document.body.style.margin='0px';document.body.style.overflow='hidden';")
